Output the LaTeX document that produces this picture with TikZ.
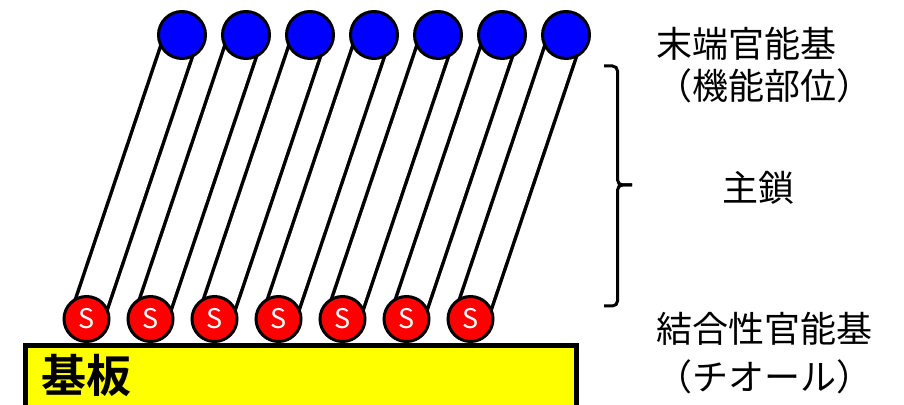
\documentclass[tikz,border=0pt]{standalone}
\usepackage{fontspec}
\newfontfamily\jpfont{Noto Sans CJK JP}
\newfontfamily\jpbold{Noto Sans CJK JP Bold}
\usetikzlibrary{backgrounds}
\tikzset{
  scirc/.style={circle, draw=black, line width=3pt, fill={rgb,255:red,255;green,0;blue,0},
    minimum size=45pt, inner sep=0pt, text=white, font=\jpfont\fontsize{27}{27}\selectfont},
  bcirc/.style={circle, draw=black, line width=3pt, fill={rgb,255:red,0;green,0;blue,255},
    minimum size=47pt, inner sep=0pt},
  rod/.style={line width=3.5pt, draw=black, double=white, double distance=30pt},
  lbl/.style={inner sep=0pt, anchor=base west, text=black, font=\jpfont\fontsize{36}{36}\selectfont},
  bracestyle/.style={line width=3pt, rounded corners=5pt}
}
\begin{document}
\begin{tikzpicture}[x=1pt,y=1pt]
\useasboundingbox (0,0) rectangle (904,404);
% substrate
\node[draw=black, line width=5pt, fill={rgb,255:red,255;green,255;blue,0}, minimum width=551pt,
  minimum height=66pt, inner sep=0pt, anchor=north west] (sub) at (23.3,60.5) {};
\node[inner sep=0pt, anchor=base, font=\jpbold\fontsize{45}{45}\selectfont] (subtxt) at (86.5,12) {基板};
% circles
\foreach \i in {1,...,7}{
  \node[scirc] (s\i) at ({86.5+64*(\i-1)},85) {S};
  \node[bcirc] (b\i) at ({182+64*(\i-1)},369) {};
}
% rods
\begin{pgfonlayer}{background}
\foreach \i in {1,...,7}{
  \draw[rod] (s\i.center) -- (b\i.center);
}
\end{pgfonlayer}
% brace
\coordinate (brtop) at (604,338);
\coordinate (brbot) at (604,98);
\coordinate (brtip) at (632,219);
\draw[bracestyle] (brtop) -- (617.5,338) -- (617.5,219) -- (brtip);
\draw[bracestyle] (brtip) -- (617.5,219) -- (617.5,98) -- (brbot);
% labels
\node[lbl] (t1) at (656,346.3) {末端官能基};
\node[lbl] (t2) at (656,304.3) {（機能部位）};
\node[lbl, anchor=base] (t3) at (758.5,202.3) {主鎖};
\node[lbl] (t4) at (656.5,61.3) {結合性官能基};
\node[lbl] (t5) at (656.5,13.3) {（チオール）};
\end{tikzpicture}
\end{document}
